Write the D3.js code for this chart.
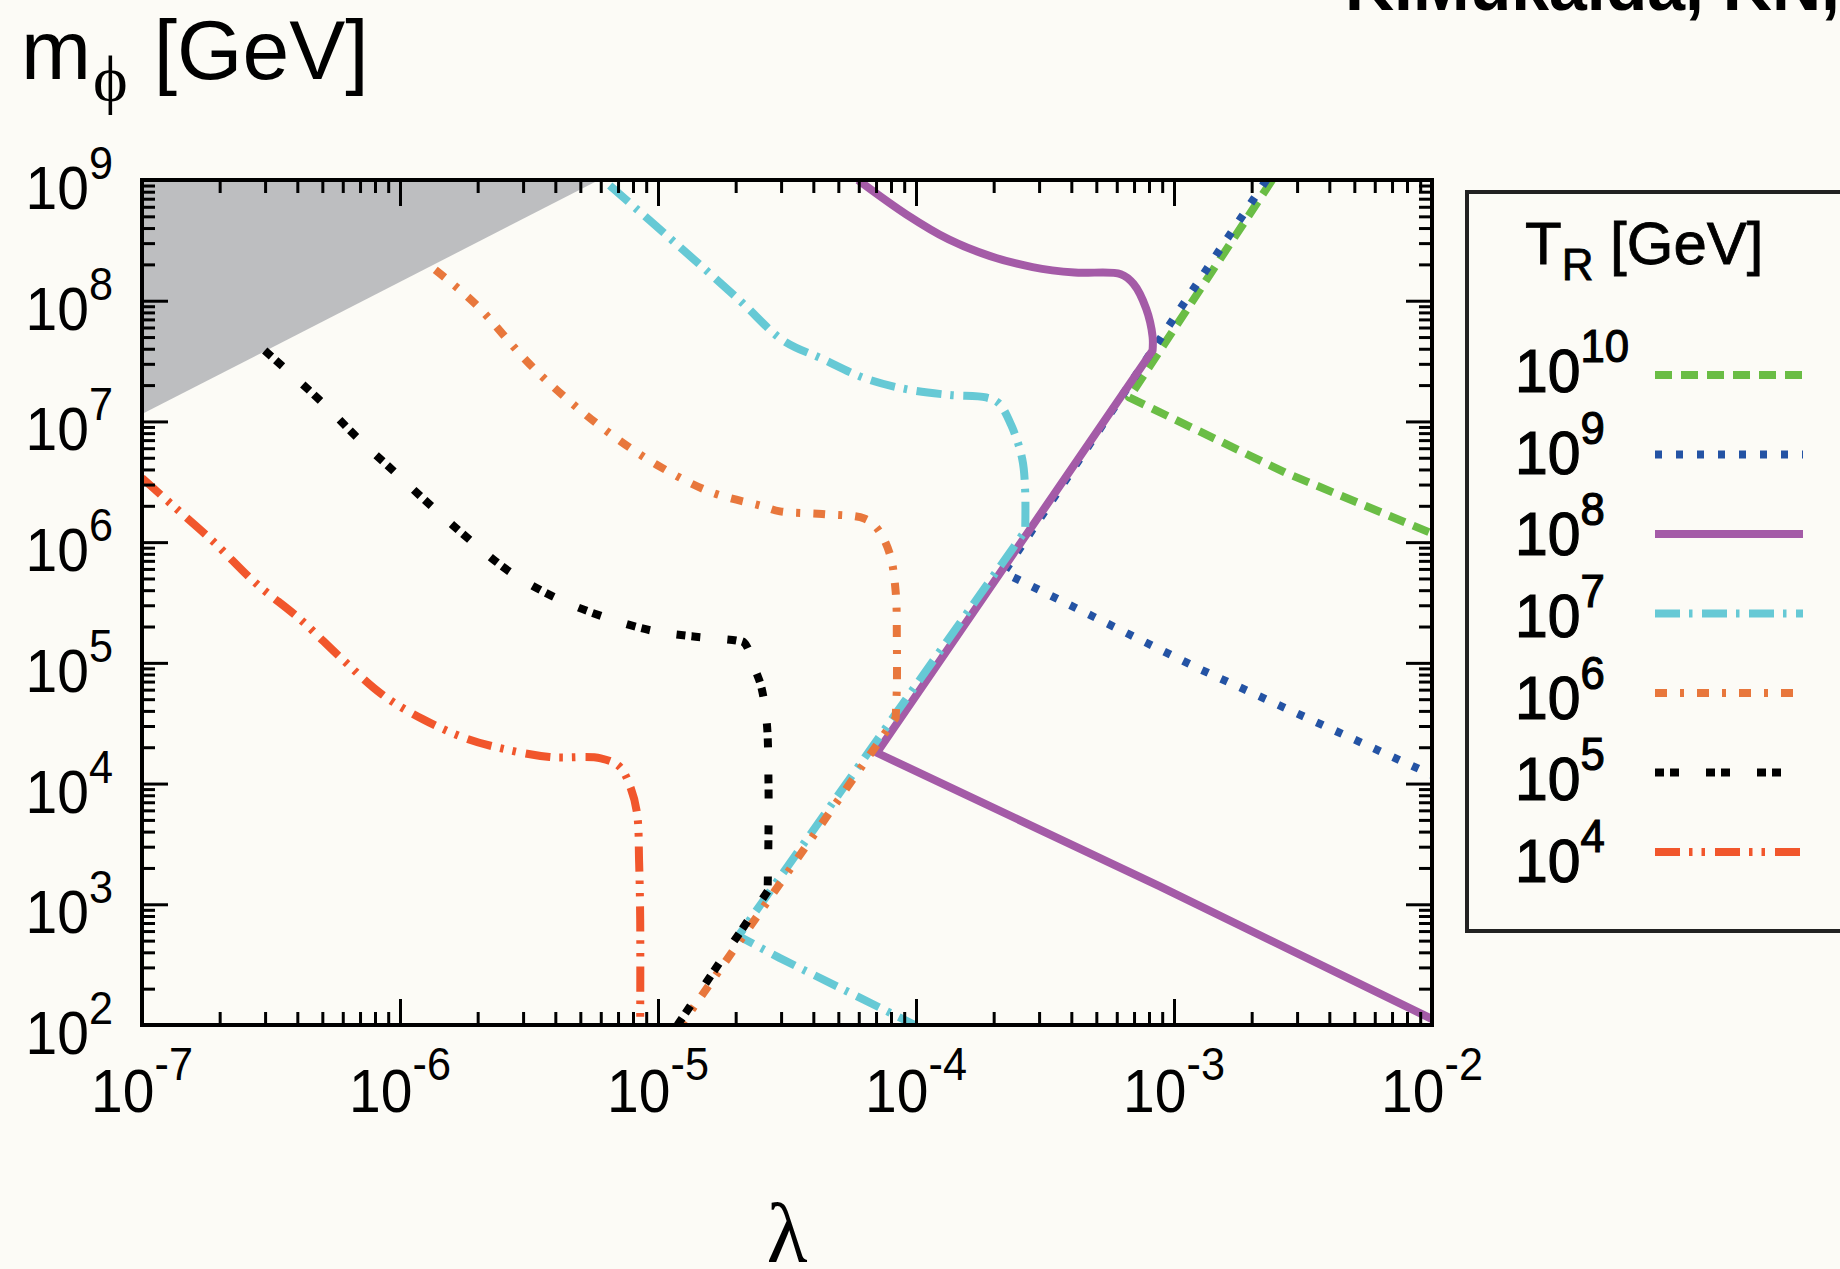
<!DOCTYPE html>
<html>
<head>
<meta charset="utf-8">
<script src="https://cdn.jsdelivr.net/npm/d3@7"></script>
<style>
  html, body { margin: 0; padding: 0; background: #fcfbf6; }
  svg { display: block; }
</style>
</head>
<body>
<div id="chart"></div>
<script>
// contours of fixed reheating temperature T_R, points are [lambda, m_phi (GeV)]
var tr1e10 = [[2.4e-3, 1e9], [6.7e-4, 1.58e7], [2.69e-3, 3.78e6], [1e-2, 1.18e6]];
var tr1e9 = [[2.28e-3, 1e9], [2.19e-4, 5.6e5], [1.27e-3, 8.8e4], [1e-2, 1.18e4]];
var tr1e8 = [[5.96e-5, 1e9], [9.16e-5, 5.2e8], [1.34e-4, 3.22e8], [1.94e-4, 2.34e8],
  [2.83e-4, 1.9e8], [4.12e-4, 1.71e8], [6.22e-4, 1.66e8], [6.97e-4, 1.38e8],
  [7.8e-4, 8.6e7], [8.26e-4, 5.05e7], [8.26e-4, 3.87e7], [7.05e-5, 1.8e4],
  [8.73e-4, 1.42e3], [1e-2, 112]];
var tr1e7 = [[6.5e-6, 9.0e8], [1.19e-5, 2.9e8], [2.08e-5, 1.0e8], [3.05e-5, 4.7e7],
  [4.33e-5, 3.3e7], [6.3e-5, 2.29e7], [9.16e-5, 1.85e7], [1.34e-4, 1.66e7],
  [1.87e-4, 1.58e7], [2.09e-4, 1.42e7], [2.34e-4, 9.3e6], [2.58e-4, 4.9e6],
  [2.65e-4, 2.6e6], [2.65e-4, 1.24e6], [2.05e-5, 547], [2.97e-5, 358], [9.9e-5, 100]];
var tr1e6 = [[1.37e-6, 1.8e8], [1.95e-6, 9.5e7], [3.18e-6, 2.98e7], [4.63e-6, 1.42e7],
  [6.75e-6, 7.5e6], [9.84e-6, 4.4e6], [1.6e-5, 2.6e6], [2.51e-5, 2.0e6],
  [2.97e-5, 1.8e6], [4.33e-5, 1.71e6], [6.3e-5, 1.57e6], [7.05e-5, 1.31e6],
  [7.9e-5, 8.1e5], [8.34e-5, 3.9e5], [8.43e-5, 1.5e5], [8.43e-5, 6.4e4],
  [8.34e-5, 3.5e4], [1.23e-5, 100]];
var tr1e5 = [[2.99e-7, 3.87e7], [4.97e-7, 1.45e7], [6.82e-7, 7.36e6], [9.57e-7, 3.78e6],
  [1.34e-6, 1.94e6], [1.88e-6, 1.03e6], [2.69e-6, 5.6e5], [4.06e-6, 3.42e5],
  [6.15e-6, 2.41e5], [9.46e-6, 1.85e5], [1.35e-5, 1.66e5], [2.01e-5, 1.53e5],
  [2.16e-5, 1.47e5], [2.38e-5, 8.8e4], [2.51e-5, 6.4e4], [2.64e-5, 3.2e4],
  [2.68e-5, 1.06e4], [2.68e-5, 3.7e3], [2.66e-5, 1.28e3], [1.19e-5, 100]];
var tr1e4 = [[1.0e-7, 3.4e6], [1.32e-7, 2.0e6], [1.9e-7, 1.0e6], [2.75e-7, 4.6e5],
  [4.1e-7, 2.3e5], [5.9e-7, 1.1e5], [8.5e-7, 5.5e4], [1.23e-6, 3.4e4],
  [1.82e-6, 2.35e4], [2.63e-6, 1.9e4], [3.8e-6, 1.66e4], [6.0e-6, 1.62e4],
  [7.1e-6, 1.38e4], [7.85e-6, 9.1e3], [8.3e-6, 5.6e3], [8.45e-6, 2.2e3],
  [8.53e-6, 760], [8.53e-6, 100]];

// excluded (grey) corner
var greyRegion = [[1e-7, 1e9], [5.9e-6, 1e9], [1e-7, 1.15e7]];

var legendExps = ["10", "9", "8", "7", "6", "5", "4"];
var xTickExps = [-7, -6, -5, -4, -3, -2];
var yTickExps = [2, 3, 4, 5, 6, 7, 8, 9];

// smoothEnd: last point of the curved part, the rest is drawn straight
var series = [
  { data: tr1e10, color: "#6abd45", dash: "17,9", smoothEnd: 0 },
  { data: tr1e9,  color: "#2453a4", dash: "7,14", smoothEnd: 0 },
  { data: tr1e8,  color: "#a45ba7", dash: null, smoothEnd: 10 },
  { data: tr1e7,  color: "#66c9d5", dash: "25,9,3.5,9.5", smoothEnd: 13 },
  { data: tr1e6,  color: "#e8773c", dash: "12,13,4,13", smoothEnd: 16 },
  { data: tr1e5,  color: "#000000", dash: "9,6,9,27", smoothEnd: 18 },
  { data: tr1e4,  color: "#f1562c", dash: "25,9,3.5,9,3.5,10", smoothEnd: 17 }
];

var W = 1840, H = 1269;
var plotL = 142, plotR = 1432, plotT = 180, plotB = 1025;
var font = "'Liberation Sans', Arial, Helvetica, sans-serif";
var serif = "'Liberation Serif', 'DejaVu Serif', serif";

var svg = d3.select("#chart").append("svg")
  .attr("width", W).attr("height", H)
  .attr("font-family", font);

svg.append("rect").attr("width", W).attr("height", H).attr("fill", "#fcfbf6");

var x = d3.scaleLog().domain([1e-7, 1e-2]).range([plotL, plotR]);
var y = d3.scaleLog().domain([1e2, 1e9]).range([plotB, plotT]);

svg.append("clipPath").attr("id", "plotClip")
  .append("rect").attr("x", plotL).attr("y", plotT)
  .attr("width", plotR - plotL).attr("height", plotB - plotT);

var plot = svg.append("g").attr("clip-path", "url(#plotClip)");

var straight = d3.line()
  .x(function(d) { return x(d[0]); })
  .y(function(d) { return y(d[1]); });
var smooth = d3.line()
  .x(function(d) { return x(d[0]); })
  .y(function(d) { return y(d[1]); })
  .curve(d3.curveCatmullRom.alpha(0.5));

plot.append("path")
  .datum(greyRegion)
  .attr("d", straight)
  .attr("fill", "#bdbec0");

function contourPath(pts, smoothEnd) {
  var d = "";
  var a = pts.slice(0, smoothEnd + 1);
  var b = pts.slice(smoothEnd);
  if (a.length > 1) d = smooth(a);
  if (b.length > 1) {
    var s = straight(b);
    d = d ? d + s.replace(/^M/, "L") : s;
  }
  return d;
}

series.forEach(function(s) {
  plot.append("path")
    .attr("d", contourPath(s.data, s.smoothEnd))
    .attr("fill", "none")
    .attr("stroke", s.color)
    .attr("stroke-width", 8)
    .attr("stroke-dasharray", s.dash)
    .attr("stroke-linejoin", "round");
});

// ticks on all four sides, pointing inward
var xMajor = xTickExps.map(function(e) { return Math.pow(10, e); });
var yMajor = yTickExps.map(function(e) { return Math.pow(10, e); });
var xMinor = [], yMinor = [];
for (var e = -7; e < -2; e++) for (var k = 2; k < 10; k++) xMinor.push(k * Math.pow(10, e));
for (var e2 = 2; e2 < 9; e2++) for (var k2 = 2; k2 < 10; k2++) yMinor.push(k2 * Math.pow(10, e2));

function tickAxis(axisFn, scale, vals, size, tx, ty) {
  var g = svg.append("g")
    .attr("transform", "translate(" + tx + "," + ty + ")")
    .call(axisFn(scale).tickValues(vals).tickSize(size).tickFormat(""));
  g.select(".domain").remove();
  g.selectAll("line").attr("stroke", "#000").attr("stroke-width", 3);
}
tickAxis(d3.axisBottom, x, xMajor, -26, 0, plotB);
tickAxis(d3.axisBottom, x, xMinor, -13, 0, plotB);
tickAxis(d3.axisTop, x, xMajor, -26, 0, plotT);
tickAxis(d3.axisTop, x, xMinor, -13, 0, plotT);
tickAxis(d3.axisLeft, y, yMajor, -26, plotL, 0);
tickAxis(d3.axisLeft, y, yMinor, -13, plotL, 0);
tickAxis(d3.axisRight, y, yMajor, -26, plotR, 0);
tickAxis(d3.axisRight, y, yMinor, -13, plotR, 0);

svg.append("rect")
  .attr("x", plotL).attr("y", plotT)
  .attr("width", plotR - plotL).attr("height", plotB - plotT)
  .attr("fill", "none").attr("stroke", "#000").attr("stroke-width", 4);

// "10^n" style labels
function powLabel(px, py, base, sup, size, supSize, rise, anchor, sx, weight) {
  var g = svg.append("g").attr("transform", "translate(" + px + "," + py + ") scale(" + sx + ",1)");
  var t = g.append("text").attr("text-anchor", anchor).attr("font-size", size).attr("fill", "#000");
  if (weight) t.attr("stroke", "#000").attr("stroke-width", weight);
  t.append("tspan").text(base);
  t.append("tspan").attr("dy", -rise).attr("font-size", supSize).text(sup);
}

xTickExps.forEach(function(e) {
  powLabel(x(Math.pow(10, e)), 1112, "10", String(e), 62, 47, 32, "middle", 0.92, 0);
});
yTickExps.forEach(function(e) {
  powLabel(113, y(Math.pow(10, e)) + 29, "10", String(e), 62, 47, 30, "end", 0.92, 0);
});

// axis titles
var yl = svg.append("text").attr("x", 21).attr("y", 79).attr("font-size", 84);
yl.append("tspan").text("m");
yl.append("tspan").attr("dx", 2).attr("dy", 22).attr("font-size", 66)
  .attr("font-family", serif).text("\u03D5");
yl.append("tspan").attr("dx", 26).attr("dy", -22).text("[GeV]");

svg.append("text")
  .attr("x", (plotL + plotR) / 2).attr("y", 1262)
  .attr("text-anchor", "middle")
  .attr("font-size", 84)
  .attr("font-family", serif)
  .text("\u03BB");

svg.append("text")
  .attr("x", 1345).attr("y", 10)
  .attr("font-size", 68).attr("font-weight", "bold")
  .text("K.Mukaida, KN,");

// legend
svg.append("rect")
  .attr("x", 1467).attr("y", 192).attr("width", 420).attr("height", 739)
  .attr("fill", "none").attr("stroke", "#222").attr("stroke-width", 4);

var lt = svg.append("text").attr("x", 1525).attr("y", 264).attr("font-size", 60)
  .attr("stroke", "#000").attr("stroke-width", 0.8);
lt.append("tspan").text("T");
lt.append("tspan").attr("dy", 16).attr("font-size", 44).text("R");
lt.append("tspan").attr("dy", -16).text(" [GeV]");

var legendRow = d3.scaleLinear().domain([0, 6]).range([0, 1]);
series.forEach(function(s, i) {
  var ly = 375 + legendRow(i) * 477;
  var by = 392 + legendRow(i) * 490;
  powLabel(1515, by, "10", legendExps[i], 62, 46, 30, "start", 0.95, 1.2);
  svg.append("line")
    .attr("x1", 1655).attr("x2", 1803)
    .attr("y1", ly).attr("y2", ly)
    .attr("stroke", s.color)
    .attr("stroke-width", 8)
    .attr("stroke-dasharray", s.dash);
});
</script>
</body>
</html>
